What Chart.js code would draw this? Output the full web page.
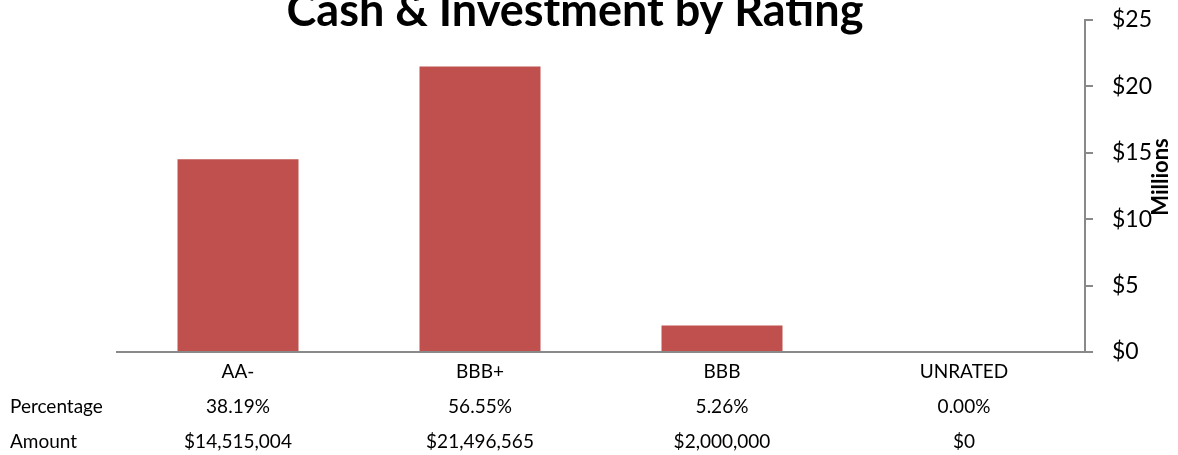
<!DOCTYPE html>
<html>
<head>
<meta charset="utf-8">
<script src="https://cdn.jsdelivr.net/npm/chart.js@4/dist/chart.umd.min.js"></script>
<style>
  html, body { margin: 0; padding: 0; background: #fff; }
  #wrap { position: relative; width: 1178px; height: 455px; }
</style>
</head>
<body>
<div id="wrap"><canvas id="chart" width="1178" height="455"></canvas></div>
<script>
// Holdings by credit rating
const ratings = ['AA-', 'BBB+', 'BBB', 'UNRATED'];
const amounts = [14515004, 21496565, 2000000, 0];
const percentages = ['38.19%', '56.55%', '5.26%', '0.00%'];
const rowLabels = ['Percentage', 'Amount'];
const yTicks = [0, 5, 10, 15, 20, 25];

const FONT = 'Lato, "Liberation Sans", sans-serif';
const AXIS_GREY = '#898989';
const TABLE_LINE = 35;
const TABLE_FONT = 19;

const fmtMoney = v => '$' + v.toLocaleString('en-US');
const millions = amounts.map(v => v / 1e6);
const xLabels = ratings.map((r, i) => [r, percentages[i], fmtMoney(amounts[i])]);

// Title, unit caption and data-table row headings
const decorations = {
  id: 'decorations',
  afterDraw(chart) {
    const ctx = chart.ctx;
    const x = chart.scales.x;
    ctx.save();
    ctx.fillStyle = '#000';

    ctx.font = 'bold 45px ' + FONT;
    ctx.textAlign = 'center';
    ctx.textBaseline = 'alphabetic';
    ctx.fillText('Cash & Investment by Rating', 575, 26);

    ctx.save();
    ctx.translate(1161, 177);
    ctx.rotate(-Math.PI / 2);
    ctx.font = 'bold 22px ' + FONT;
    ctx.textAlign = 'center';
    ctx.textBaseline = 'middle';
    ctx.fillText('Millions', 0, 0);
    ctx.restore();

    ctx.font = TABLE_FONT + 'px ' + FONT;
    ctx.textAlign = 'left';
    ctx.textBaseline = 'middle';
    rowLabels.forEach((t, i) => {
      ctx.fillText(t, 10, x.top + 2 + TABLE_LINE * (i + 1.5));
    });
    ctx.restore();
  }
};

new Chart(document.getElementById('chart'), {
  type: 'bar',
  data: {
    labels: xLabels,
    datasets: [{
      data: millions,
      backgroundColor: '#C0504D',
      borderWidth: 0,
      barPercentage: 0.5,
      categoryPercentage: 1.0
    }]
  },
  options: {
    responsive: false,
    animation: false,
    layout: { padding: { left: 117, top: 20, right: 0, bottom: 0 } },
    plugins: {
      legend: { display: false },
      title: { display: false },
      tooltip: { enabled: false }
    },
    scales: {
      x: {
        grid: { display: true, drawOnChartArea: false, drawTicks: false },
        border: { display: true, color: AXIS_GREY, width: 2 },
        ticks: {
          color: '#000',
          font: { family: FONT, size: TABLE_FONT, lineHeight: TABLE_LINE / TABLE_FONT },
          padding: 2,
          maxRotation: 0,
          autoSkip: false
        },
        afterFit: s => { s.height = 103; s.paddingTop = 0; s.paddingBottom = 0; }
      },
      y: {
        position: 'right',
        min: 0,
        max: 25,
        afterBuildTicks: s => { s.ticks = yTicks.map(v => ({ value: v })); },
        grid: {
          display: true,
          drawOnChartArea: false,
          drawTicks: true,
          tickLength: 8,
          color: AXIS_GREY,
          lineWidth: 2
        },
        border: { display: true, color: AXIS_GREY, width: 2 },
        ticks: {
          color: '#000',
          font: { family: FONT, size: 23 },
          padding: 19,
          callback: v => '$' + v
        },
        afterFit: s => { s.width = 93; s.paddingTop = 0; s.paddingBottom = 0; }
      }
    }
  },
  plugins: [decorations]
});
</script>
</body>
</html>
